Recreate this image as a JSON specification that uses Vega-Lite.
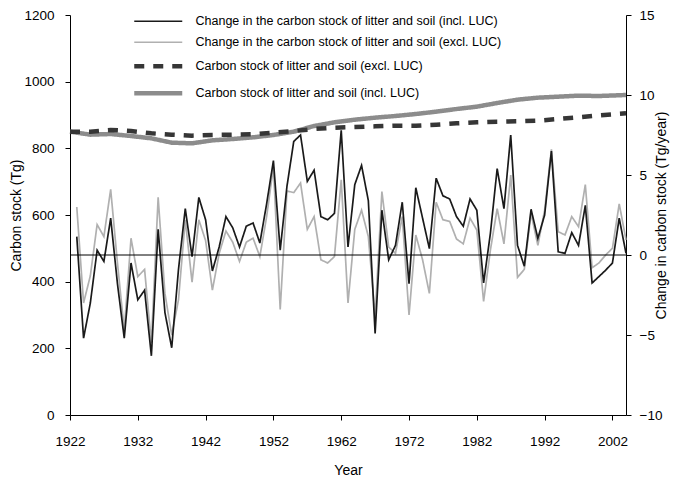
{
  "$schema": "https://vega.github.io/schema/vega-lite/v6.json",
  "width": 556,
  "height": 400,
  "autosize": {"type": "none"},
  "padding": {"left": 70, "top": 15, "right": 47, "bottom": 68},
  "background": "white",
  "config": {
    "view": {"stroke": null},
    "font": "Liberation Sans",
    "axis": {
      "grid": false,
      "domainColor": "#000",
      "tickColor": "#000",
      "labelColor": "#000",
      "titleColor": "#000",
      "labelFont": "Liberation Sans",
      "titleFont": "Liberation Sans",
      "labelFontSize": 13.5,
      "titleFontSize": 14,
      "titleFontWeight": "normal",
      "tickSize": 5,
      "domainWidth": 1,
      "tickWidth": 1,
      "labelFlush": false
    },
    "legend": {
      "orient": "none",
      "legendX": 82,
      "legendY": 0,
      "padding": 0,
      "symbolType": "M-4,0H4",
      "symbolSize": 144,
      "symbolStrokeWidth": 1.7,
      "labelFont": "Liberation Sans",
      "labelFontSize": 12.5,
      "labelColor": "#000",
      "labelOffset": 31,
      "labelLimit": 500,
      "rowPadding": 8,
      "symbolFillColor": "transparent"
    }
  },
  "datasets": {
    "names": [
      {"key": "ci", "series": "Change in the carbon stock of litter and soil (incl. LUC)"},
      {"key": "ce", "series": "Change in the carbon stock of litter and soil (excl. LUC)"},
      {"key": "se", "series": "Carbon stock of litter and soil (excl. LUC)"},
      {"key": "si", "series": "Carbon stock of litter and soil (incl. LUC)"}
    ],
    "stock": [
      {"year": 1922, "si": 850, "se": 850},
      {"year": 1925, "si": 841, "se": 850},
      {"year": 1928, "si": 843, "se": 855},
      {"year": 1931, "si": 837, "se": 852},
      {"year": 1934, "si": 830, "se": 845},
      {"year": 1937, "si": 817, "se": 841},
      {"year": 1940, "si": 815, "se": 838},
      {"year": 1943, "si": 824, "se": 840},
      {"year": 1946, "si": 828, "se": 841},
      {"year": 1949, "si": 833, "se": 842},
      {"year": 1952, "si": 840, "se": 847},
      {"year": 1955, "si": 850, "se": 852},
      {"year": 1958, "si": 867, "se": 858},
      {"year": 1961, "si": 878, "se": 862},
      {"year": 1964, "si": 886, "se": 864},
      {"year": 1967, "si": 892, "se": 866},
      {"year": 1970, "si": 897, "se": 868},
      {"year": 1973, "si": 903, "se": 868},
      {"year": 1976, "si": 910, "se": 871},
      {"year": 1979, "si": 918, "se": 875},
      {"year": 1982, "si": 925, "se": 878},
      {"year": 1985, "si": 936, "se": 880},
      {"year": 1988, "si": 946, "se": 881},
      {"year": 1991, "si": 952, "se": 883},
      {"year": 1994, "si": 955, "se": 888},
      {"year": 1997, "si": 958, "se": 893},
      {"year": 2000, "si": 957, "se": 899},
      {"year": 2004, "si": 960, "se": 905}
    ],
    "change": [
      {"year": 1923, "ci": 1.15, "ce": 3.0},
      {"year": 1924, "ci": -5.2, "ce": -3.0},
      {"year": 1925, "ci": -3.0, "ce": -1.3},
      {"year": 1926, "ci": 0.3, "ce": 1.9},
      {"year": 1927, "ci": -0.4, "ce": 1.15},
      {"year": 1928, "ci": 2.3, "ce": 4.1},
      {"year": 1929, "ci": -1.8, "ce": -0.5},
      {"year": 1930, "ci": -5.2, "ce": -4.7},
      {"year": 1931, "ci": -0.5, "ce": 1.05},
      {"year": 1932, "ci": -2.8, "ce": -1.35},
      {"year": 1933, "ci": -2.2, "ce": -0.9},
      {"year": 1934, "ci": -6.3, "ce": -5.5},
      {"year": 1935, "ci": 1.6, "ce": 3.6},
      {"year": 1936, "ci": -3.6, "ce": -2.4},
      {"year": 1937, "ci": -5.8, "ce": -5.0},
      {"year": 1938, "ci": -0.9, "ce": -2.8},
      {"year": 1939, "ci": 2.9, "ce": 2.2},
      {"year": 1940, "ci": -0.1, "ce": -1.7},
      {"year": 1941, "ci": 3.6, "ce": 2.2},
      {"year": 1942, "ci": 2.2, "ce": 0.9},
      {"year": 1943, "ci": -1.0, "ce": -2.2},
      {"year": 1944, "ci": 0.5, "ce": 0.1},
      {"year": 1945, "ci": 2.4, "ce": 1.5},
      {"year": 1946, "ci": 1.7, "ce": 0.8},
      {"year": 1947, "ci": 0.5, "ce": -0.4},
      {"year": 1948, "ci": 1.8, "ce": 0.8},
      {"year": 1949, "ci": 2.0, "ce": 1.05},
      {"year": 1950, "ci": 0.75, "ce": -0.1},
      {"year": 1951, "ci": 3.2, "ce": 2.4},
      {"year": 1952, "ci": 5.9, "ce": 5.5},
      {"year": 1953, "ci": 0.3, "ce": -3.4},
      {"year": 1954, "ci": 4.3, "ce": 4.0},
      {"year": 1955, "ci": 7.1, "ce": 3.9},
      {"year": 1956, "ci": 7.5, "ce": 4.5},
      {"year": 1957, "ci": 4.6, "ce": 1.6},
      {"year": 1958, "ci": 5.3, "ce": 2.4},
      {"year": 1959, "ci": 2.4, "ce": -0.3},
      {"year": 1960, "ci": 2.2, "ce": -0.5},
      {"year": 1961, "ci": 2.6, "ce": -0.1},
      {"year": 1962, "ci": 7.8, "ce": 4.7},
      {"year": 1963, "ci": 0.5, "ce": -3.0},
      {"year": 1964, "ci": 4.4, "ce": 1.6},
      {"year": 1965, "ci": 5.6, "ce": 2.8},
      {"year": 1966, "ci": 3.4, "ce": 1.15},
      {"year": 1967, "ci": -4.9, "ce": -3.85},
      {"year": 1968, "ci": 2.8, "ce": 3.96},
      {"year": 1969, "ci": -0.3, "ce": 0.5},
      {"year": 1970, "ci": 0.6, "ce": 0.1},
      {"year": 1971, "ci": 3.3, "ce": 2.4},
      {"year": 1972, "ci": -1.8, "ce": -3.75},
      {"year": 1973, "ci": 4.2, "ce": 1.25},
      {"year": 1974, "ci": 2.3, "ce": -0.3},
      {"year": 1975, "ci": 0.4, "ce": -2.4},
      {"year": 1976, "ci": 4.8, "ce": 3.3},
      {"year": 1977, "ci": 3.7, "ce": 2.2},
      {"year": 1978, "ci": 3.5, "ce": 2.1},
      {"year": 1979, "ci": 2.4, "ce": 1.0},
      {"year": 1980, "ci": 1.8, "ce": 0.7},
      {"year": 1981, "ci": 3.5, "ce": 2.3},
      {"year": 1982, "ci": 2.8, "ce": 1.56},
      {"year": 1983, "ci": -1.75, "ce": -2.9},
      {"year": 1984, "ci": 1.35, "ce": 0.3},
      {"year": 1985, "ci": 5.4, "ce": 2.9},
      {"year": 1986, "ci": 2.9, "ce": 0.7},
      {"year": 1987, "ci": 7.5, "ce": 5.0},
      {"year": 1988, "ci": 0.6, "ce": -1.4},
      {"year": 1989, "ci": -0.7, "ce": -0.9},
      {"year": 1990, "ci": 2.86, "ce": 2.6},
      {"year": 1991, "ci": 1.04, "ce": 0.6},
      {"year": 1992, "ci": 2.5, "ce": 2.8},
      {"year": 1993, "ci": 6.5, "ce": 6.6},
      {"year": 1994, "ci": 0.2, "ce": 1.46},
      {"year": 1995, "ci": 0.1, "ce": 1.25},
      {"year": 1996, "ci": 1.4, "ce": 2.4},
      {"year": 1997, "ci": 0.6, "ce": 1.77},
      {"year": 1998, "ci": 3.1, "ce": 4.4},
      {"year": 1999, "ci": -1.75, "ce": -0.8},
      {"year": 2000, "ci": -1.35, "ce": -0.5},
      {"year": 2001, "ci": -0.95, "ce": 0.0},
      {"year": 2002, "ci": -0.5, "ce": 0.42},
      {"year": 2003, "ci": 2.3, "ce": 3.2},
      {"year": 2004, "ci": 0.1, "ce": 0.94}
    ]
  },
  "layer": [
    {
      "data": {"name": "stock"},
      "transform": [
        {"fold": ["si", "se"], "as": ["key", "value"]},
        {"lookup": "key", "from": {"data": {"name": "names"}, "key": "key", "fields": ["series"]}}
      ],
      "mark": {"type": "line", "strokeCap": "butt", "strokeWidth": 4.5},
      "encoding": {
        "x": {
          "field": "year", "type": "quantitative",
          "scale": {"domain": [1922, 2004], "nice": false, "zero": false},
          "axis": {"values": [1922, 1932, 1942, 1952, 1962, 1972, 1982, 1992, 2002], "format": "d", "title": "Year", "labelPadding": 14, "titlePadding": 16}
        },
        "y": {
          "field": "value", "type": "quantitative",
          "scale": {"domain": [0, 1200], "nice": false, "zero": false},
          "axis": {"values": [0, 200, 400, 600, 800, 1000, 1200], "format": "d", "title": "Carbon stock (Tg)", "labelPadding": 11, "titlePadding": 0}
        },
        "color": {
          "field": "series", "type": "nominal",
          "scale": {
            "domain": ["Change in the carbon stock of litter and soil (incl. LUC)", "Change in the carbon stock of litter and soil (excl. LUC)", "Carbon stock of litter and soil (excl. LUC)", "Carbon stock of litter and soil (incl. LUC)"],
            "range": ["#1a1a1a", "#b0b0b0", "#363636", "#8c8c8c"]
          },
          "legend": {
            "title": null,
            "encode": {"symbols": {"update": {"strokeWidth": {"signal": "indexof('' + datum.label, 'Change') === 0 ? 1.7 : 4.5"}}}}
          }
        },
        "strokeDash": {
          "field": "series", "type": "nominal",
          "scale": {
            "domain": ["Change in the carbon stock of litter and soil (incl. LUC)", "Change in the carbon stock of litter and soil (excl. LUC)", "Carbon stock of litter and soil (excl. LUC)", "Carbon stock of litter and soil (incl. LUC)"],
            "range": [[1, 0], [1, 0], [10, 9], [1, 0]]
          },
          "legend": {"title": null}
        }
      }
    },
    {
      "layer": [
        {
          "data": {"name": "change"},
          "transform": [
            {"fold": ["ce", "ci"], "as": ["key", "value"]},
            {"lookup": "key", "from": {"data": {"name": "names"}, "key": "key", "fields": ["series"]}}
          ],
          "mark": {"type": "line", "strokeJoin": "miter", "strokeWidth": 1.7},
          "encoding": {
            "x": {"field": "year", "type": "quantitative"},
            "y": {
              "field": "value", "type": "quantitative",
              "scale": {"domain": [-10, 15], "nice": false, "zero": false},
              "axis": {"orient": "right", "values": [-10, -5, 0, 5, 10, 15], "title": "Change in carbon stock (Tg/year)", "titleAngle": 270, "labelPadding": 8, "titlePadding": 7}
            },
            "color": {"field": "series", "type": "nominal", "legend": {"title": null}},
            "strokeDash": {"field": "series", "type": "nominal", "legend": {"title": null}}
          }
        },
        {
          "data": {"values": [{"v": 0}]},
          "mark": {"type": "rule", "color": "#000", "strokeWidth": 1},
          "encoding": {"y": {"field": "v", "type": "quantitative"}}
        }
      ]
    }
  ],
  "resolve": {"scale": {"y": "independent"}, "axis": {"y": "independent"}}
}
